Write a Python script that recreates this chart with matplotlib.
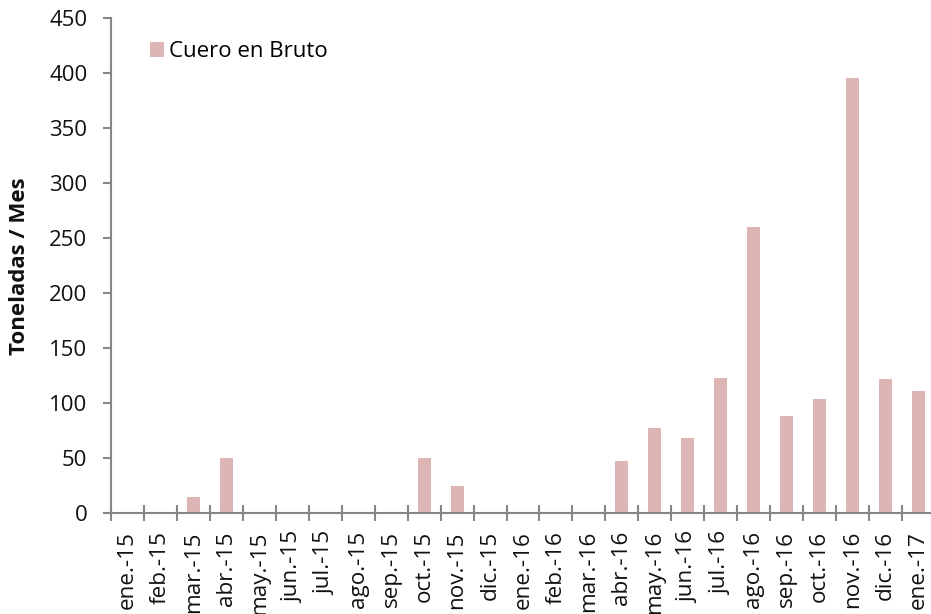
import matplotlib

matplotlib.use("Agg")
import matplotlib.pyplot as plt
from matplotlib.ticker import FixedLocator

# datos (toneladas por mes)
meses = [
    "ene.-15", "feb.-15", "mar.-15", "abr.-15", "may.-15", "jun.-15",
    "jul.-15", "ago.-15", "sep.-15", "oct.-15", "nov.-15", "dic.-15",
    "ene.-16", "feb.-16", "mar.-16", "abr.-16", "may.-16", "jun.-16",
    "jul.-16", "ago.-16", "sep.-16", "oct.-16", "nov.-16", "dic.-16",
    "ene.-17",
]
cuero_bruto = [
    0, 0, 15, 50, 0, 0,
    0, 0, 0, 50, 25, 0,
    0, 0, 0, 47, 77, 68,
    123, 260, 88, 104, 395, 122,
    111,
]
y_ticks = [0, 50, 100, 150, 200, 250, 300, 350, 400, 450]

BAR_COLOR = "#DDB5B5"
AXIS_COLOR = "#868686"
TEXT_COLOR = "#111111"


def main():
    plt.rcParams["font.family"] = ["Open Sans", "DejaVu Sans"]

    W, H = 931, 614
    fig = plt.figure(figsize=(W / 100, H / 100), dpi=100)
    # el eje derecho queda algo fuera de la imagen, como en el original
    ax = fig.add_axes([111 / W, 1 - 513 / H, 824 / W, 495 / H])

    x = list(range(len(meses)))
    ax.bar(x, cuero_bruto, width=0.39, color=BAR_COLOR, label="Cuero en Bruto", zorder=2)

    ax.set_xlim(-0.5, len(meses) - 0.5)
    ax.set_ylim(0, 450)
    ax.set_yticks(y_ticks)
    ax.set_yticklabels([str(v) for v in y_ticks], fontsize=16, color=TEXT_COLOR)

    ax.set_xticks(x)
    ax.set_xticklabels(meses, rotation=90, fontsize=16.2, color=TEXT_COLOR)
    ax.xaxis.set_minor_locator(FixedLocator([i - 0.5 for i in range(len(meses) + 1)]))
    ax.tick_params(axis="x", which="major", length=0, pad=13)
    ax.tick_params(axis="x", which="minor", direction="inout", length=11,
                   width=1.5, color=AXIS_COLOR)
    ax.tick_params(axis="y", direction="out", length=6, width=1.5,
                   color=AXIS_COLOR, pad=11)

    for side in ("top", "right"):
        ax.spines[side].set_visible(False)
    for side in ("left", "bottom"):
        ax.spines[side].set_color(AXIS_COLOR)
        ax.spines[side].set_linewidth(1.5)

    fig.text(20 / W, 1 - 266 / H, "Toneladas / Mes", rotation=90, fontsize=16,
             fontweight="bold", ha="center", va="center", color=TEXT_COLOR)

    fig.legend(loc="upper left", bbox_to_anchor=(141 / W, 1 - 32 / H), frameon=False,
               fontsize=16, handlelength=0.65, handleheight=0.65, handletextpad=0.2,
               borderaxespad=0)

    fig.savefig("out.png", dpi=100)
    plt.close(fig)


if __name__ == "__main__":
    main()
